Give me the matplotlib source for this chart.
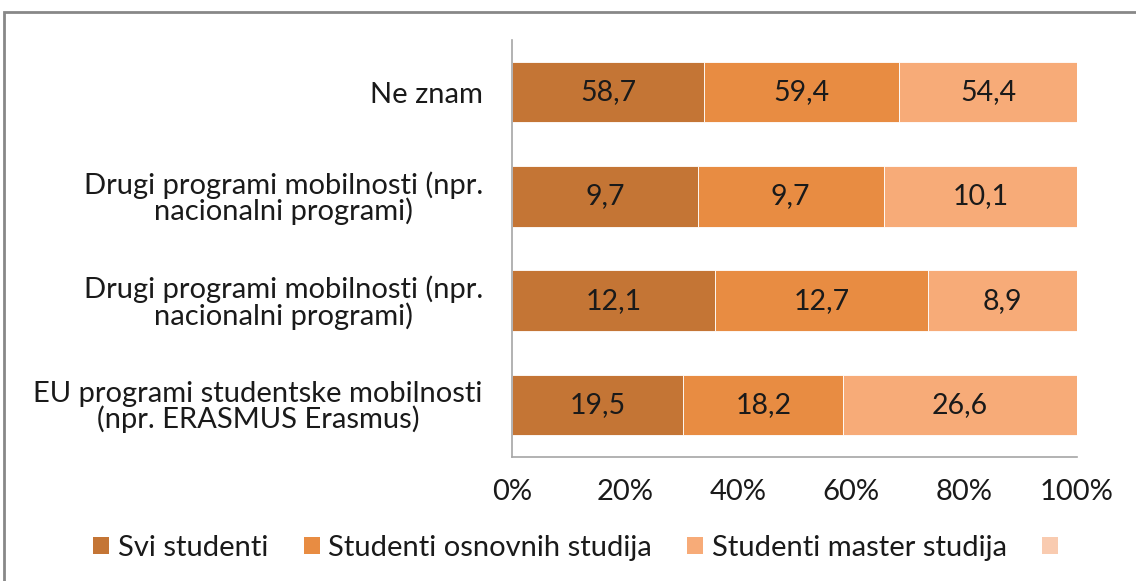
import matplotlib.pyplot as plt
import numpy as np
from matplotlib.patches import Rectangle, Patch

plt.rcParams['font.family'] = ['Lato', 'DejaVu Sans']

categories = ['EU programi studentske mobilnosti\n(npr. ERASMUS Erasmus)',
              'Drugi programi mobilnosti (npr.\nnacionalni programi)',
              'Drugi programi mobilnosti (npr.\nnacionalni programi)',
              'Ne znam']
svi = [19.5, 12.1, 9.7, 58.7]
osnovni = [18.2, 12.7, 9.7, 59.4]
master = [26.6, 8.9, 10.1, 54.4]
series_names = ['Svi studenti', 'Studenti osnovnih studija', 'Studenti master studija', '']
colors = ['#C47535', '#E88C42', '#F7AB78', '#F9CBB0']

fig = plt.figure(figsize=(11.36, 5.81), dpi=100)
ax = fig.add_axes([0.4507, 0.2134, 0.4974, 0.7177])

data = np.array([svi, osnovni, master])
totals = data.sum(axis=0)
shares = data / totals * 100
y = np.arange(len(categories))
left = np.zeros(len(categories))
for vals, shr, c in zip(data, shares, colors):
    ax.barh(y, shr, left=left, height=0.58, color=c, edgecolor='white', linewidth=0.6)
    for yi, l, s, v in zip(y, left, shr, vals):
        ax.text(l + s / 2, yi, f'{v:.1f}'.replace('.', ','), ha='center', va='center',
                fontsize=20.5, color='#1a1a1a')
    left += shr

ax.set_xlim(0, 100)
ax.set_ylim(-0.5, 3.5)
ax.set_xticks(np.arange(0, 101, 20))
ax.set_xticklabels([f'{t}%' for t in range(0, 101, 20)])
ax.set_yticks(y)
ax.set_yticklabels(categories, ha='right', ma='center', linespacing=0.95)
ax.tick_params(axis='y', length=0, pad=21, labelsize=21, labelcolor='#1a1a1a')
ax.tick_params(axis='x', length=0, pad=16, labelsize=21, labelcolor='#1a1a1a')
for s in ['top', 'right']:
    ax.spines[s].set_visible(False)
for s in ['left', 'bottom']:
    ax.spines[s].set_color('#a6a6a6')
    ax.spines[s].set_linewidth(1.2)

handles = [Patch(facecolor=c, edgecolor='none') for c in colors]
fig.legend(handles, series_names, loc='center', bbox_to_anchor=(0.5 + 12 / 1136, 1 - 548 / 581), ncol=4,
           frameon=False, fontsize=21, handlelength=0.55, handleheight=0.55, handletextpad=0.3,
           columnspacing=1.2, labelcolor='#1a1a1a')

fig.patches.append(Rectangle((4 / 1136, -0.1), 1.2, 1 - 12 / 581 + 0.1, transform=fig.transFigure,
                             fill=False, edgecolor='#888888', linewidth=2))

fig.savefig('out.png', dpi=100)
